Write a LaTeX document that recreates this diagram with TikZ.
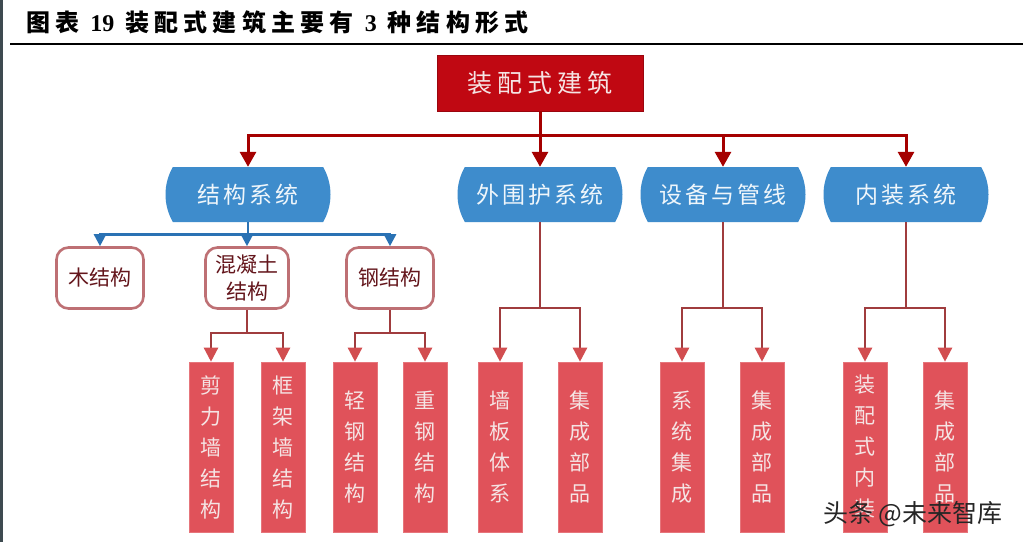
\documentclass[tikz,border=0pt]{standalone}
\usepackage{fontspec}
\usetikzlibrary{arrows.meta,shapes.misc}
\newfontfamily\cjk{Noto Sans CJK SC}
\newfontfamily\cjkTitle{Noto Sans CJK SC}[LetterSpace=22]
\newfontfamily\cjkTop{Noto Sans CJK SC}[LetterSpace=20]
\newfontfamily\cjkBlue{Noto Sans CJK SC}[LetterSpace=12]
\newfontfamily\lserif{Liberation Serif}
\definecolor{topred}{RGB}{192,8,18}
\definecolor{topline}{RGB}{165,0,0}
\definecolor{bluefill}{RGB}{62,140,204}
\definecolor{blueline}{RGB}{42,114,180}
\definecolor{boxred}{RGB}{224,82,90}
\definecolor{smallline}{RGB}{160,60,62}
\definecolor{smalltip}{RGB}{210,78,80}
\definecolor{rrborder}{RGB}{190,112,116}
\definecolor{rrtext}{RGB}{100,22,28}
\definecolor{paletext}{RGB}{245,228,228}
\definecolor{edgegrey}{RGB}{62,74,80}
\tikzset{
  topbox/.style={fill=topred, draw=topred!80!black, line width=0.6pt, minimum width=206pt, minimum height=56pt, inner sep=0pt, text=paletext, font=\cjkTop\fontsize{25}{30}\selectfont},
  bluebox/.style={rounded rectangle, rounded rectangle arc length=60, fill=bluefill, minimum width=165pt, minimum height=55pt, inner sep=0pt, text=white!92!bluefill, font=\cjkBlue\fontsize{23}{28}\selectfont},
  strbox/.style={rounded corners=12pt, fill=white, draw=rrborder, line width=2.6pt, minimum height=61pt, inner sep=0pt, text=rrtext, align=center, font=\cjk\fontsize{21}{27}\selectfont},
  redbox/.style={fill=boxred, draw=boxred!80!white, line width=0.6pt, minimum width=44pt, minimum height=170pt, inner sep=0pt, text=paletext, align=center, font=\cjk\fontsize{21}{31}\selectfont},
  bigarr/.style={draw=topline, line width=3pt, -{Triangle[width=16pt,length=15pt]}},
  bluearr/.style={draw=blueline, line width=2.6pt, -{Triangle[width=12pt,length=12pt]}},
  smallarr/.style={draw=smallline, line width=2.4pt, -{Triangle[width=14pt,length=14pt,color=smalltip]}}
}
\begin{document}
\begin{tikzpicture}[x=1pt,y=-1pt]
\useasboundingbox (0,0) rectangle (1023,542);
\fill[white] (0,0) rectangle (1023,542);
\fill[edgegrey] (0,0) rectangle (3,542);
% title
\node[anchor=west, inner sep=0pt, font=\cjkTitle\bfseries\fontsize{24}{28}\selectfont] (title) at (26,22) {图表 {\lserif\bfseries 19} 装配式建筑主要有 {\lserif\bfseries 3} 种结构形式};
\draw[black, line width=2pt] (10,44) -- (1023,44);
% top
\node[topbox] (top) at (540,83) {装配式建筑};
% blue level
\node[bluebox] (b1) at (248,194.5) {结构系统};
\node[bluebox] (b2) at (540,194.5) {外围护系统};
\node[bluebox] (b3) at (723,194.5) {设备与管线};
\node[bluebox] (b4) at (906,194.5) {内装系统};
% structure boxes
\node[strbox, minimum width=87pt] (s1) at (100,278) {木结构};
\node[strbox, minimum width=83pt] (s2) at (247,278) {混凝土\\结构};
\node[strbox, minimum width=87pt] (s3) at (390,278) {钢结构};
% red vertical boxes
\node[redbox] (r1) at (211,447) {剪\\力\\墙\\结\\构};
\node[redbox] (r2) at (283,447) {框\\架\\墙\\结\\构};
\node[redbox] (r3) at (355,447) {轻\\钢\\结\\构};
\node[redbox] (r4) at (425,447) {重\\钢\\结\\构};
\node[redbox] (r5) at (500,447) {墙\\板\\体\\系};
\node[redbox] (r6) at (580,447) {集\\成\\部\\品};
\node[redbox] (r7) at (682,447) {系\\统\\集\\成};
\node[redbox] (r8) at (762,447) {集\\成\\部\\品};
\node[redbox] (r9) at (865,447) {装\\配\\式\\内\\装};
\node[redbox] (r10) at (945,447) {集\\成\\部\\品};
% top connectors
\draw[bigarr] (top.south) -- (b2.north);
\draw[bigarr] (top.south) -- ++(0,24) -| (b1.north);
\draw[bigarr] (top.south) -- ++(0,24) -| (b3.north);
\draw[bigarr] (top.south) -- ++(0,24) -| (b4.north);
% blue connectors
\draw[bluearr] (b1.south) -- ++(0,12) -| (s1.north);
\draw[bluearr] (b1.south) -- ++(0,12) -| (s2.north);
\draw[bluearr] (b1.south) -- ++(0,12) -| (s3.north);
% small connectors
\draw[smallarr] (s2.south) -- ++(0,23) -| (r1.north);
\draw[smallarr] (s2.south) -- ++(0,23) -| (r2.north);
\draw[smallarr] (s3.south) -- ++(0,23) -| (r3.north);
\draw[smallarr] (s3.south) -- ++(0,23) -| (r4.north);
\draw[smallarr] (b2.south) -- ++(0,86) -| (r5.north);
\draw[smallarr] (b2.south) -- ++(0,86) -| (r6.north);
\draw[smallarr] (b3.south) -- ++(0,86) -| (r7.north);
\draw[smallarr] (b3.south) -- ++(0,86) -| (r8.north);
\draw[smallarr] (b4.south) -- ++(0,86) -| (r9.north);
\draw[smallarr] (b4.south) -- ++(0,86) -| (r10.north);
% watermark
\node[inner sep=0pt, font=\cjk\fontsize{25}{30}\selectfont, text=black!85] (wm) at (913,514) {头条 @未来智库};
\end{tikzpicture}
\end{document}
